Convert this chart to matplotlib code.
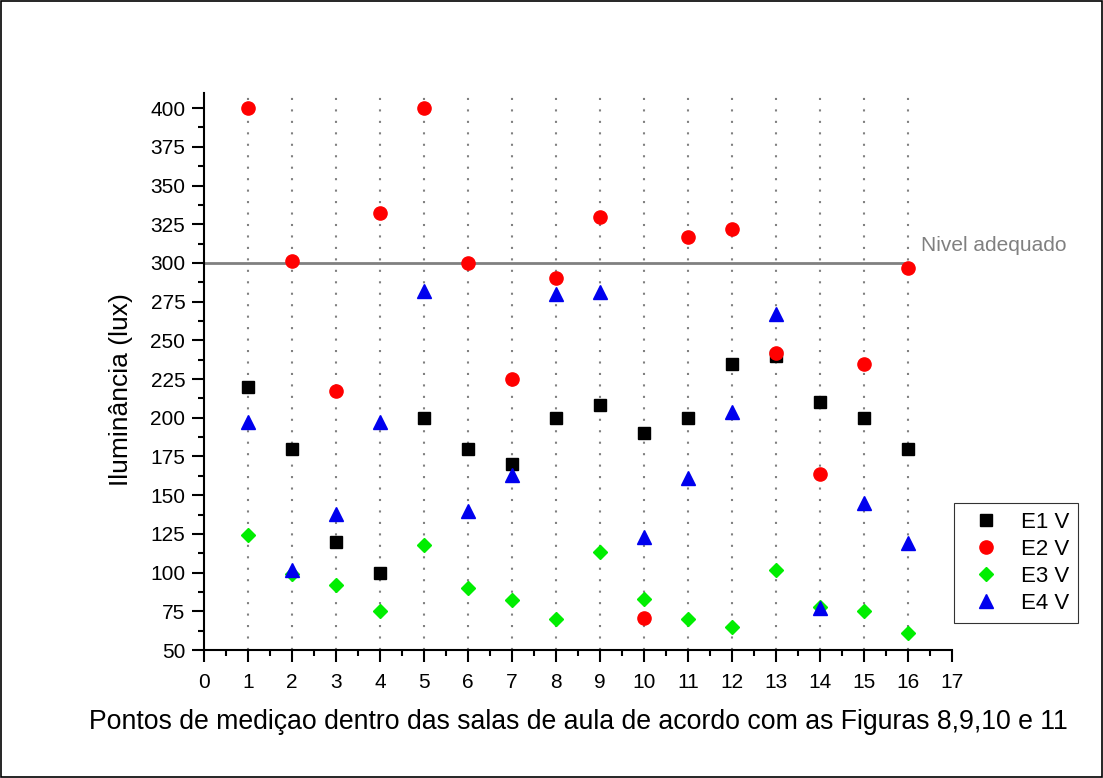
import numpy as np
import matplotlib
matplotlib.use('Agg')
import matplotlib.pyplot as plt
from matplotlib.ticker import MultipleLocator
from matplotlib.patches import Rectangle

plt.rcParams['font.family'] = ['Liberation Sans', 'DejaVu Sans']

# pontos de medicao
pontos = [1, 2, 3, 4, 5, 6, 7, 8, 9, 10, 11, 12, 13, 14, 15, 16]

# iluminancia (lux) por escola
e1 = [220, 180, 120, 100, 200, 180, 170, 200, 208, 190, 200, 235, 240, 210, 200, 180]
e2 = [400, 301, 217, 332, 400, 300, 225, 290, 330, 71, 317, 322, 242, 164, 235, 297]
e3 = [124, 99, 92, 75, 118, 90, 82, 70, 113, 83, 70, 65, 102, 78, 75, 61]
e4 = [197, 102, 138, 197, 282, 140, 163, 280, 281, 123, 161, 204, 267, 77, 145, 119]

nivel = 300

fig = plt.figure(figsize=(11.03, 7.78), dpi=100)
ax = fig.add_axes([0.185, 0.1645, 0.678, 0.7164])

# linhas verticais pontilhadas
for p in pontos:
    ax.plot([p, p], [50, 410], color='#808080', lw=1.5, ls=(0, (1, 4.5)), zorder=1)

# nivel adequado
ax.plot([0, 16], [nivel, nivel], color='#808080', lw=2, zorder=1.5)
ax.text(16.3, nivel + 5, 'Nivel adequado', color='#808080', fontsize=15,
        ha='left', va='bottom', clip_on=False)

ax.plot(pontos, e1, 's', color='black', ms=8, mec='black', label='E1 V', zorder=3)
ax.plot(pontos, e2, 'o', color='#ff0000', ms=9.5, mec='#ff0000', label='E2 V', zorder=3)
ax.plot(pontos, e3, 'D', color='#00ee00', ms=7.5, mec='#00ee00', label='E3 V', zorder=3)
ax.plot(pontos, e4, '^', color='#0000ee', ms=10, mec='#0000ee', label='E4 V', zorder=3)

ax.set_xlim(0, 17)
ax.set_ylim(50, 410)
ax.xaxis.set_major_locator(MultipleLocator(1))
ax.xaxis.set_minor_locator(MultipleLocator(0.5))
ax.yaxis.set_major_locator(MultipleLocator(25))
ax.yaxis.set_minor_locator(MultipleLocator(12.5))
ax.set_yticks(np.arange(50, 401, 25))

for s in ['top', 'right']:
    ax.spines[s].set_visible(False)
for s in ['left', 'bottom']:
    ax.spines[s].set_linewidth(1.5)

ax.tick_params(which='major', direction='out', length=8.5, width=1.5, labelsize=15)
ax.tick_params(which='minor', direction='out', length=4.5, width=1.5)
ax.tick_params(axis='x', which='major', pad=8)
ax.tick_params(axis='y', which='major', pad=5)

ax.set_ylabel('Iluminância (lux)', fontsize=19)
ax.yaxis.set_label_coords(-0.095, 0.4665)
ax.set_xlabel('Pontos de mediçao dentro das salas de aula de acordo com as Figuras 8,9,10 e 11',
              fontsize=19.2, labelpad=12)

leg = ax.legend(loc='upper left', bbox_to_anchor=(954 / 1103, 1 - 503 / 778),
                bbox_transform=fig.transFigure, borderaxespad=0, fontsize=16,
                frameon=True, fancybox=False, handletextpad=0.5, labelspacing=0.27,
                borderpad=0.4, handlelength=2.1)
leg.get_frame().set_edgecolor('black')
leg.get_frame().set_linewidth(0.8)

# borda da figura
fig.patches.append(Rectangle((0.0005, 0.0007), 0.999, 0.9986, transform=fig.transFigure,
                             fill=False, edgecolor='black', lw=1.2))

fig.savefig('out.png', dpi=100)
